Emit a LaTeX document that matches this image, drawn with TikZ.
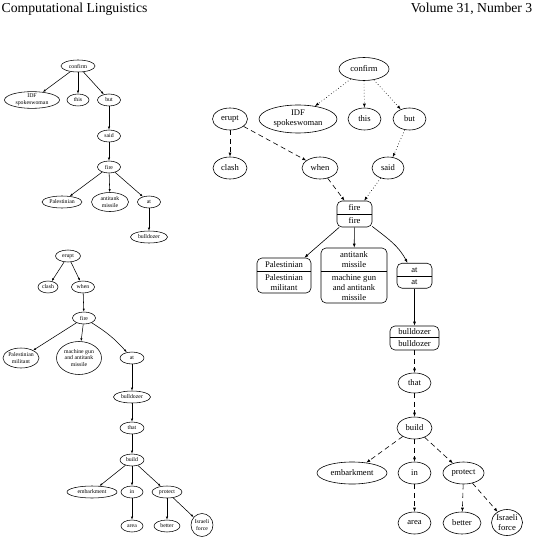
\documentclass[tikz,border=0pt]{standalone}
\usepackage{fontspec}
\setmainfont{Liberation Serif}
\usetikzlibrary{shapes.geometric,arrows.meta}
\begin{document}
\begin{tikzpicture}[x=1pt,y=-1pt,
  hdr/.style={inner sep=0pt,font=\fontsize{13.7}{15}\selectfont},
  sn/.style={ellipse,draw,line width=0.55pt,inner sep=0pt,align=center,font=\fontsize{5.8}{6.8}\selectfont},
  rn/.style={ellipse,draw,line width=0.6pt,inner sep=0pt,align=center,font=\fontsize{8.6}{10}\selectfont},
  rbox/.style={draw,line width=0.6pt,rounded corners=5pt,inner sep=0pt},
  rtxt/.style={inner sep=0pt,align=center,font=\fontsize{8.6}{10}\selectfont},
  sa/.style={-{Latex[length=3pt,width=2.2pt]},line width=0.55pt},
  ra/.style={-{Latex[length=4pt,width=3pt]},line width=0.6pt},
  dotline/.style={dash pattern=on 0.7pt off 2.3pt},
  dashline/.style={dash pattern=on 5pt off 3.5pt}
]
\useasboundingbox (0,0) rectangle (537,540);
% header
\node[hdr,anchor=base west] (h1) at (1.5,12.7) {Computational Linguistics};
\node[hdr,anchor=base east] (h2) at (532.5,12.7) {Volume 31, Number 3};

% ---------------- left top tree ----------------
\node[sn,minimum width=34pt,minimum height=12pt] (aconf) at (78,66) {confirm};
\node[sn,minimum width=55pt,minimum height=16pt] (aidf) at (32,100) {IDF\\spokeswoman};
\node[sn,minimum width=22pt,minimum height=12pt] (athis) at (78,100) {this};
\node[sn,minimum width=23pt,minimum height=12pt] (abut) at (109,100) {but};
\node[sn,minimum width=23pt,minimum height=12pt] (asaid) at (109,136) {said};
\node[sn,minimum width=23pt,minimum height=12pt] (afire) at (109,167) {fire};
\node[sn,minimum width=40pt,minimum height=12pt] (apal) at (62,202) {Palestinian};
\node[sn,minimum width=37pt,minimum height=19pt] (aanti) at (110,202) {antitank\\missile};
\node[sn,minimum width=23pt,minimum height=12pt] (aat) at (149,202) {at};
\node[sn,minimum width=37pt,minimum height=12pt] (abull) at (149,237) {bulldozer};
\draw[sa] (aconf) -- (aidf);
\draw[sa] (aconf) -- (athis);
\draw[sa] (aconf) -- (abut);
\draw[sa] (abut) -- (asaid);
\draw[sa] (asaid) -- (afire);
\draw[sa] (afire) -- (apal);
\draw[sa] (afire) -- (aanti);
\draw[sa] (afire) -- (aat);
\draw[sa] (aat) -- (abull);

% ---------------- left bottom tree ----------------
\node[sn,minimum width=25pt,minimum height=12pt] (berupt) at (68,256) {erupt};
\node[sn,minimum width=20pt,minimum height=12pt] (bclash) at (48,287) {clash};
\node[sn,minimum width=23pt,minimum height=12pt] (bwhen) at (83,287) {when};
\node[sn,minimum width=23pt,minimum height=12pt] (bfire) at (84,318) {fire};
\node[sn,minimum width=34pt,minimum height=20pt] (bpal) at (21,358) {Palestinian\\militant};
\node[sn,minimum width=45pt,minimum height=33pt] (bmach) at (79,358) {machine gun\\and antitank\\missile};
\node[sn,minimum width=24pt,minimum height=12pt] (bat) at (132,358) {at};
\node[sn,minimum width=37pt,minimum height=12pt] (bbull) at (132,397) {bulldozer};
\node[sn,minimum width=24pt,minimum height=12pt] (bthat) at (132,428) {that};
\node[sn,minimum width=24pt,minimum height=12pt] (bbuild) at (132,460) {build};
\node[sn,minimum width=50pt,minimum height=12pt] (bemb) at (92,492) {embarkment};
\node[sn,minimum width=22pt,minimum height=12pt] (bin) at (132,492) {in};
\node[sn,minimum width=30pt,minimum height=12pt] (bprot) at (167,492) {protect};
\node[sn,minimum width=22pt,minimum height=12pt] (barea) at (132,526) {area};
\node[sn,minimum width=26pt,minimum height=12pt] (bbet) at (167,526) {better};
\node[sn,minimum width=22pt,minimum height=23pt] (bisr) at (202,525) {Israeli\\force};
\draw[sa] (berupt) -- (bclash);
\draw[sa] (berupt) -- (bwhen);
\draw[sa] (bwhen) -- (bfire);
\draw[sa] (bfire) -- (bpal);
\draw[sa] (bfire) -- (bmach);
\draw[sa] (bfire) to[bend left=8] (bat);
\draw[sa] (bat) -- (bbull);
\draw[sa] (bbull) -- (bthat);
\draw[sa] (bthat) -- (bbuild);
\draw[sa] (bbuild) -- (bemb);
\draw[sa] (bbuild) -- (bin);
\draw[sa] (bbuild) -- (bprot);
\draw[sa] (bin) -- (barea);
\draw[sa] (bprot) -- (bbet);
\draw[sa] (bprot) -- (bisr);

% ---------------- right graph ----------------
\node[rn,minimum width=50pt,minimum height=23pt] (rconf) at (364,69) {confirm};
\node[rn,minimum width=78pt,minimum height=28pt] (ridf) at (298,119) {IDF\\spokeswoman};
\node[rn,minimum width=33pt,minimum height=22pt] (rthis) at (364.5,119) {this};
\node[rn,minimum width=33pt,minimum height=22pt] (rbut) at (409.5,119) {but};
\node[rn,minimum width=35pt,minimum height=22pt] (rerupt) at (230,119) {erupt};
\node[rn,minimum width=34pt,minimum height=22pt] (rclash) at (230,168) {clash};
\node[rn,minimum width=36pt,minimum height=22pt] (rwhen) at (320,168) {when};
\node[rn,minimum width=32pt,minimum height=22pt] (rsaid) at (388,168) {said};

% boxes
\node[rbox,minimum width=35pt,minimum height=26pt] (rfire) at (354.5,214) {};
\draw[line width=0.6pt] (337,214) -- (372,214);
\node[rtxt] (rfirea) at (354.5,207.6) {fire};
\node[rtxt] (rfireb) at (354.5,220.6) {fire};

\node[rbox,minimum width=54pt,minimum height=35pt] (rpal) at (284,275.5) {};
\draw[line width=0.6pt] (257,271) -- (311,271);
\node[rtxt] (rpala) at (284,264.6) {Palestinian};
\node[rtxt] (rpalb) at (284,282.2) {Palestinian\\militant};

\node[rbox,minimum width=66pt,minimum height=55pt] (ranti) at (354,275.5) {};
\draw[line width=0.6pt] (321,271) -- (387,271);
\node[rtxt] (rantia) at (354,259.6) {antitank\\missile};
\node[rtxt] (rantib) at (354,287.2) {machine gun\\and antitank\\missile};

\node[rbox,minimum width=35pt,minimum height=25pt] (rat) at (414.5,275.7) {};
\draw[line width=0.6pt] (397,276) -- (432,276);
\node[rtxt] (rata) at (414.5,269.8) {at};
\node[rtxt] (ratb) at (414.5,282.2) {at};

\node[rbox,minimum width=49pt,minimum height=24pt] (rbull) at (414.5,338) {};
\draw[line width=0.6pt] (390,337.5) -- (439,337.5);
\node[rtxt] (rbulla) at (414.5,331.8) {bulldozer};
\node[rtxt] (rbullb) at (414.5,344) {bulldozer};

\node[rn,minimum width=33pt,minimum height=20pt] (rthat) at (414.5,383) {that};
\node[rn,minimum width=35pt,minimum height=22pt] (rbuild) at (414.5,428) {build};
\node[rn,minimum width=70pt,minimum height=22pt] (remb) at (352,473) {embarkment};
\node[rn,minimum width=33pt,minimum height=22pt] (rin) at (414.5,473) {in};
\node[rn,minimum width=41pt,minimum height=22pt] (rprot) at (463.5,473) {protect};
\node[rn,minimum width=33pt,minimum height=22pt] (rarea) at (414.5,523) {area};
\node[rn,minimum width=38pt,minimum height=22pt] (rbet) at (462,523) {better};
\node[rn,minimum width=31pt,minimum height=26pt] (risr) at (507,522.5) {Israeli\\force};

% right edges
\draw[ra,dotline] (rconf) -- (ridf);
\draw[ra,dotline] (rconf) -- (rthis);
\draw[ra,dotline] (rconf) -- (rbut);
\draw[ra,dotline] (rbut) -- (rsaid);
\draw[ra,dotline] (rsaid) -- (rfire);
\draw[ra,dashline] (rerupt) -- (rclash);
\draw[ra,dashline] (rerupt) -- (rwhen);
\draw[ra,dashline] (rwhen) -- (rfire);
\draw[ra] (rfire) -- (rpal);
\draw[ra] (rfire) -- (ranti);
\draw[ra] (rfire.-35) to[out=-38,in=118] ([xshift=-7pt]rat.north);
\draw[ra] (rat) -- (rbull);
\draw[ra,dashline] (rbull) -- (rthat);
\draw[ra,dashline] (rthat) -- (rbuild);
\draw[ra,dashline] (rbuild) -- (remb);
\draw[ra,dashline] (rbuild) -- (rin);
\draw[ra,dashline] (rbuild) -- (rprot);
\draw[ra,dashline] (rin) -- (rarea);
\draw[ra,dashline] (rprot) -- (rbet);
\draw[ra,dashline] (rprot) -- (risr);
\end{tikzpicture}
\end{document}
